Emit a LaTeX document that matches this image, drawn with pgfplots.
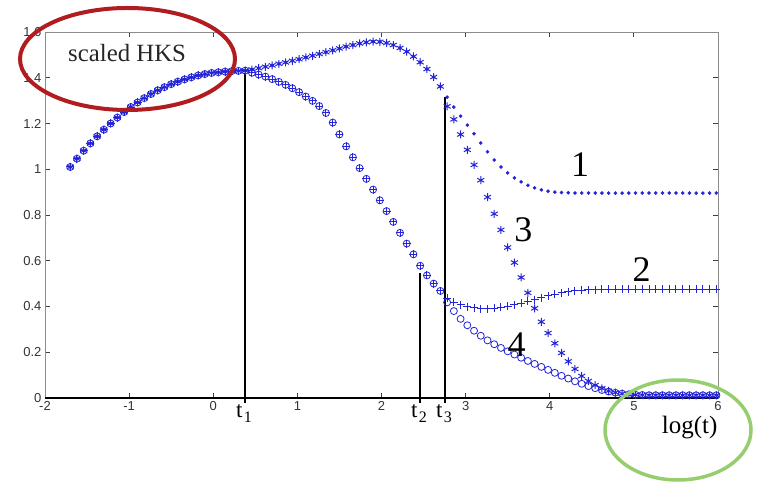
\documentclass[border=0pt]{standalone}
\usepackage{fontspec}
\setmainfont{Liberation Serif}
\setsansfont{Liberation Sans}
\usepackage{pgfplots}
\usepackage{pgfplotstable}
\pgfplotsset{compat=1.18}
\definecolor{mk}{RGB}{35,35,215}
\definecolor{ellred}{RGB}{176,28,32}
\definecolor{ellgreen}{RGB}{150,205,110}
\pgfplotstableread{
x c1 c2 c3 c4
-1.70 1.010 1.010 1.010 1.010
-1.62 1.046 1.046 1.046 1.046
-1.54 1.081 1.081 1.081 1.081
-1.46 1.113 1.113 1.113 1.113
-1.38 1.144 1.144 1.144 1.144
-1.30 1.173 1.173 1.173 1.173
-1.22 1.200 1.200 1.200 1.200
-1.14 1.226 1.226 1.226 1.226
-1.06 1.250 1.250 1.250 1.250
-0.98 1.272 1.272 1.272 1.272
-0.90 1.292 1.292 1.292 1.292
-0.82 1.311 1.311 1.311 1.311
-0.74 1.329 1.329 1.329 1.329
-0.66 1.345 1.345 1.345 1.345
-0.58 1.359 1.359 1.359 1.359
-0.50 1.372 1.372 1.372 1.372
-0.42 1.383 1.383 1.383 1.383
-0.34 1.393 1.393 1.393 1.393
-0.26 1.402 1.402 1.402 1.402
-0.18 1.410 1.410 1.410 1.410
-0.10 1.416 1.416 1.416 1.416
-0.02 1.421 1.421 1.421 1.421
0.06 1.424 1.424 1.424 1.424
0.14 1.427 1.427 1.427 1.427
0.22 1.429 1.429 1.429 1.429
0.30 1.430 1.430 1.430 1.430
0.38 1.431 1.431 1.431 1.431
0.46 1.436 1.422 1.436 1.422
0.54 1.442 1.414 1.442 1.414
0.62 1.448 1.405 1.448 1.405
0.70 1.454 1.394 1.454 1.394
0.78 1.461 1.382 1.461 1.382
0.86 1.467 1.369 1.467 1.369
0.94 1.474 1.354 1.474 1.354
1.02 1.481 1.337 1.481 1.337
1.10 1.489 1.318 1.489 1.318
1.18 1.496 1.299 1.496 1.299
1.26 1.504 1.276 1.504 1.276
1.34 1.512 1.246 1.512 1.246
1.42 1.520 1.204 1.520 1.204
1.50 1.528 1.152 1.528 1.152
1.58 1.536 1.100 1.536 1.100
1.66 1.543 1.052 1.543 1.052
1.74 1.550 1.005 1.550 1.005
1.82 1.555 0.958 1.555 0.958
1.90 1.558 0.911 1.558 0.911
1.98 1.557 0.864 1.557 0.864
2.06 1.552 0.817 1.552 0.817
2.14 1.543 0.770 1.543 0.770
2.22 1.530 0.722 1.530 0.722
2.30 1.514 0.675 1.514 0.675
2.38 1.493 0.628 1.493 0.628
2.46 1.468 0.578 1.468 0.578
2.54 1.438 0.536 1.438 0.536
2.62 1.403 0.500 1.403 0.500
2.70 1.362 0.468 1.362 0.468
2.78 1.315 0.436 1.275 0.418
2.86 1.272 0.419 1.218 0.380
2.94 1.232 0.407 1.152 0.346
3.02 1.193 0.399 1.085 0.318
3.10 1.155 0.394 1.019 0.294
3.18 1.115 0.391 0.952 0.272
3.26 1.076 0.390 0.878 0.252
3.34 1.040 0.392 0.805 0.235
3.42 1.010 0.396 0.735 0.219
3.50 0.984 0.401 0.658 0.204
3.58 0.962 0.407 0.592 0.190
3.66 0.945 0.414 0.527 0.176
3.74 0.930 0.422 0.460 0.162
3.82 0.919 0.430 0.392 0.149
3.90 0.910 0.439 0.333 0.136
3.98 0.904 0.447 0.284 0.123
4.06 0.900 0.454 0.239 0.110
4.14 0.898 0.460 0.197 0.097
4.22 0.897 0.465 0.160 0.085
4.30 0.896 0.468 0.127 0.073
4.38 0.896 0.471 0.096 0.062
4.46 0.896 0.473 0.074 0.052
4.54 0.896 0.474 0.056 0.043
4.62 0.896 0.475 0.042 0.035
4.70 0.896 0.476 0.031 0.028
4.78 0.896 0.476 0.024 0.023
4.86 0.896 0.476 0.019 0.019
4.94 0.896 0.476 0.016 0.016
5.02 0.896 0.476 0.014 0.014
5.10 0.896 0.476 0.013 0.013
5.18 0.896 0.476 0.012 0.012
5.26 0.896 0.476 0.012 0.012
5.34 0.896 0.476 0.012 0.012
5.42 0.896 0.476 0.012 0.012
5.50 0.896 0.476 0.012 0.012
5.58 0.896 0.476 0.012 0.012
5.66 0.896 0.476 0.012 0.012
5.74 0.896 0.476 0.012 0.012
5.82 0.896 0.476 0.012 0.012
5.90 0.896 0.476 0.012 0.012
5.98 0.896 0.476 0.012 0.012
}\hks
\begin{document}
\begin{tikzpicture}
\useasboundingbox (-45pt,-88pt) rectangle (714pt,398pt);
\begin{axis}[at={(0pt,0pt)}, anchor=south west, scale only axis,
  width=673pt, height=366pt,
  xmin=-2, xmax=6, ymin=0, ymax=1.6,
  xtick={-2,-1,0,1,2,3,4,5,6},
  ytick={0,0.2,0.4,0.6,0.8,1,1.2,1.4,1.6},
  tick align=inside, major tick length=5pt,
  axis line style={draw=black!45, line width=0.9pt},
  tick style={draw=black!75, line width=0.8pt},
  ticklabel style={font=\fontsize{13}{13}\selectfont\sffamily, text=black!80},
  /pgf/number format/assume math mode=true,
  clip=false]
\addplot[only marks, mark=*, mark size=1.6pt, color=mk] table[x=x,y=c1]{\hks};
\addplot[only marks, mark=+, mark size=4pt, color=mk, mark options={line width=1pt}] table[x=x,y=c2]{\hks};
\addplot[only marks, mark=asterisk, mark size=4pt, color=mk, mark options={line width=1pt}] table[x=x,y=c3]{\hks};
\addplot[only marks, mark=o, mark size=3.5pt, color=mk, mark options={line width=0.8pt}] table[x=x,y=c4]{\hks};
\draw[black, line width=1.4pt] (axis cs:-2,0) -- (axis cs:6,0);
\draw[black, line width=1.3pt] (axis cs:0.378,-0.02) -- (axis cs:0.378,1.42);
\draw[black, line width=1.3pt] (axis cs:2.456,-0.02) -- (axis cs:2.456,0.546);
\draw[black, line width=1.3pt] (axis cs:2.753,-0.02) -- (axis cs:2.753,1.316);
\end{axis}
\node[anchor=base west, inner sep=0, font=\fontsize{24.8}{25}\selectfont, text=black!85] at (23pt,336pt) {scaled HKS};
\node[inner sep=0, font=\fontsize{36}{36}\selectfont] at (535pt,233pt) {1};
\node[inner sep=0, font=\fontsize{36}{36}\selectfont] at (478.3pt,168pt) {3};
\node[inner sep=0, font=\fontsize{36}{36}\selectfont] at (596.7pt,128pt) {2};
\node[inner sep=0, font=\fontsize{36}{36}\selectfont] at (471.7pt,53pt) {4};
\node[anchor=base west, inner sep=0, font=\fontsize{25}{25}\selectfont] at (616.7pt,-36pt) {log(t)};
\node[anchor=base, inner sep=0] at (199pt,-20pt) {\fontsize{23}{23}\selectfont t\kern1.5pt\raisebox{-4.5pt}{\fontsize{16}{16}\selectfont 1}};
\node[anchor=base, inner sep=0] at (374pt,-20pt) {\fontsize{23}{23}\selectfont t\kern1.5pt\raisebox{-4.5pt}{\fontsize{16}{16}\selectfont 2}};
\node[anchor=base, inner sep=0] at (399pt,-20pt) {\fontsize{23}{23}\selectfont t\kern1.5pt\raisebox{-4.5pt}{\fontsize{16}{16}\selectfont 3}};
\draw[ellred, line width=4pt] (82.5pt,339pt) ellipse [x radius=107.5pt, y radius=51pt];
\draw[ellgreen, line width=3.5pt] (633pt,-32pt) ellipse [x radius=73pt, y radius=50pt];
\end{tikzpicture}
\end{document}
